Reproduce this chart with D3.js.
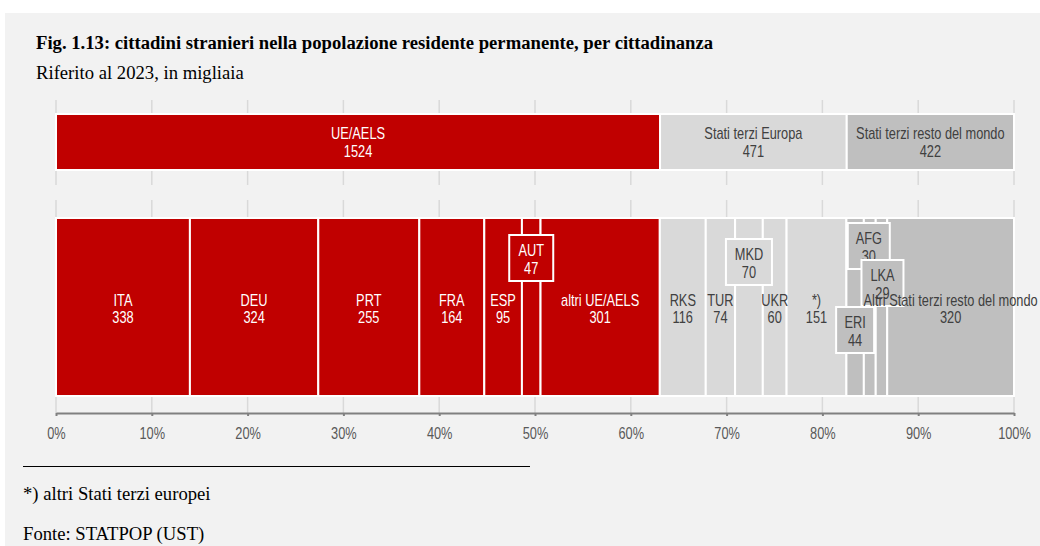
<!DOCTYPE html>
<html><head><meta charset="utf-8">
<script src="https://cdn.jsdelivr.net/npm/d3@7"></script>
<style>
html,body{margin:0;padding:0;background:#fff;}
svg{display:block;}
</style></head>
<body>
<svg id="c" width="1040" height="546"></svg>
<script>
// ---- data ----
const groupNames = ["UE/AELS", "Stati terzi Europa", "Stati terzi resto del mondo"];
const groupValues = [1524, 471, 422];
const groupColors = ["#c00000", "#d9d9d9", "#bfbfbf"];

const countryNames = ["ITA","DEU","PRT","FRA","ESP","AUT","altri UE/AELS",
  "RKS","TUR","MKD","UKR","*)",
  "ERI","AFG","LKA","Altri Stati terzi resto del mondo"];
const countryValues = [338,324,255,164,95,47,301, 116,74,70,60,151, 44,30,29,320];
const countryGroup = [0,0,0,0,0,0,0, 1,1,1,1,1, 2,2,2,2];

const tickValues = [0,0.1,0.2,0.3,0.4,0.5,0.6,0.7,0.8,0.9,1];

// labels drawn in callout boxes (offset in px relative to the segment label)
const boxed = {"AUT": {dx:0, dy:-49, w:44}, "MKD": {dx:0, dy:-45, w:46}, "AFG": {dx:-1, dy:-61, w:42}, "LKA": {dx:1, dy:-24, w:42}, "ERI": {dx:0, dy:23, w:38}};

const svg = d3.select("#c");
svg.append("rect").attr("x",5).attr("y",13).attr("width",1035).attr("height",533).attr("fill","#f2f2f2");

const x = d3.scaleLinear().domain([0,1]).range([56,1014]);
const sans = "'Liberation Sans',Arial,sans-serif";
const serif = "'Liberation Serif','Times New Roman',serif";
const FS = 16;
const SX = 0.8; // horizontal condensing of the sans labels (narrow font look)
const cond = cx => `matrix(${SX} 0 0 1 ${(1-SX)*cx} 0)`;

// title
svg.append("text").attr("x",36).attr("y",49).attr("font-family",serif).attr("font-weight","bold")
  .attr("font-size",18.67).attr("fill","#000")
  .text("Fig. 1.13: cittadini stranieri nella popolazione residente permanente, per cittadinanza");
svg.append("text").attr("x",36).attr("y",79).attr("font-family",serif)
  .attr("font-size",18.67).attr("fill","#000").text("Riferito al 2023, in migliaia");

// gridlines (two bands)
const bands = [[100,185],[200,413]];
bands.forEach(b=>{
  svg.append("g").selectAll("line").data(tickValues).join("line")
    .attr("x1",d=>x(d)).attr("x2",d=>x(d)).attr("y1",b[0]).attr("y2",b[1])
    .attr("stroke","#d9d9d9").attr("stroke-width",1.5);
});

// top bar
const gTot = d3.sum(groupValues);
let acc = 0;
const topData = groupValues.map((v,i)=>{const o={name:groupNames[i],v,x0:acc/gTot,x1:(acc+v)/gTot,c:groupColors[i]}; acc+=v; return o;});
const topY0 = 114, topY1 = 170;
svg.append("g").selectAll("rect").data(topData).join("rect")
  .attr("x",d=>x(d.x0)).attr("width",d=>x(d.x1)-x(d.x0)).attr("y",topY0).attr("height",topY1-topY0)
  .attr("fill",d=>d.c).attr("stroke","#fff").attr("stroke-width",2);
const topLab = svg.append("g").selectAll("text").data(topData).join("text")
  .attr("text-anchor","middle").attr("font-family",sans).attr("font-size",FS)
  .attr("transform",d=>cond(x((d.x0+d.x1)/2)))
  .attr("fill",(d,i)=>i===0?"#fff":"#404040");
topLab.append("tspan").attr("x",d=>x((d.x0+d.x1)/2)).attr("y",139).text(d=>d.name);
topLab.append("tspan").attr("x",d=>x((d.x0+d.x1)/2)).attr("y",157).text(d=>d.v);

// middle bar
const cTot = d3.sum(countryValues);
acc = 0;
const midData = countryValues.map((v,i)=>{const o={name:countryNames[i],v,x0:acc/cTot,x1:(acc+v)/cTot,c:groupColors[countryGroup[i]],g:countryGroup[i]}; acc+=v; return o;});
const midY0 = 218, midY1 = 396;
svg.append("g").selectAll("rect").data(midData).join("rect")
  .attr("x",d=>x(d.x0)).attr("width",d=>x(d.x1)-x(d.x0)).attr("y",midY0).attr("height",midY1-midY0)
  .attr("fill",d=>d.c).attr("stroke","#fff").attr("stroke-width",2);

function drawLabel(g, d){
  const cx = x((d.x0+d.x1)/2);
  const b = boxed[d.name];
  const col = d.g===0?"#fff":"#404040";
  if(b){
    const bx = cx + b.dx, by = 307 + b.dy;
    g.append("rect").attr("x",bx-b.w/2).attr("y",by-23).attr("width",b.w).attr("height",46)
      .attr("fill",d.c).attr("stroke","#fff").attr("stroke-width",2);
    const t = g.append("text").attr("text-anchor","middle").attr("font-family",sans).attr("font-size",FS)
      .attr("fill",col).attr("transform",cond(bx));
    t.append("tspan").attr("x",bx).attr("y",by-2).text(d.name);
    t.append("tspan").attr("x",bx).attr("y",by+16).text(d.v);
  } else {
    const t = g.append("text").attr("text-anchor","middle").attr("font-family",sans).attr("font-size",FS)
      .attr("fill",col).attr("transform",cond(cx));
    t.append("tspan").attr("x",cx).attr("y",306).text(d.name);
    t.append("tspan").attr("x",cx).attr("y",323).text(d.v);
  }
}
const labG = svg.append("g");
midData.filter(d=>!boxed[d.name]).filter(d=>d.name!=="Altri Stati terzi resto del mondo").forEach(d=>drawLabel(labG,d));
["AUT","MKD","AFG","LKA","ERI"].forEach(n=>drawLabel(labG, midData.find(d=>d.name===n)));
drawLabel(labG, midData.find(d=>d.name==="Altri Stati terzi resto del mondo"));

// axis
const axis = d3.axisBottom(x).tickValues(tickValues).tickFormat(d3.format(".0%")).tickSize(3).tickSizeOuter(0);
const ax = svg.append("g").attr("transform","translate(0,413)").call(axis);
ax.select(".domain").attr("stroke","#808080").attr("stroke-width",2);
ax.selectAll(".tick line").attr("stroke","#808080").attr("stroke-width",2);
ax.selectAll(".tick text").attr("font-family",sans).attr("font-size",FS).attr("fill","#595959")
  .attr("y",0).attr("dy",null).attr("transform",`matrix(${SX} 0 0 1 0 26)`);

// footnotes
svg.append("line").attr("x1",23).attr("x2",530).attr("y1",466.5).attr("y2",466.5).attr("stroke","#000").attr("stroke-width",1);
svg.append("text").attr("x",23).attr("y",500).attr("font-family",serif).attr("font-size",18.67).attr("fill","#000").text("*) altri Stati terzi europei");
svg.append("text").attr("x",23).attr("y",540).attr("font-family",serif).attr("font-size",18.67).attr("fill","#000").text("Fonte: STATPOP (UST)");
</script>
</body></html>
